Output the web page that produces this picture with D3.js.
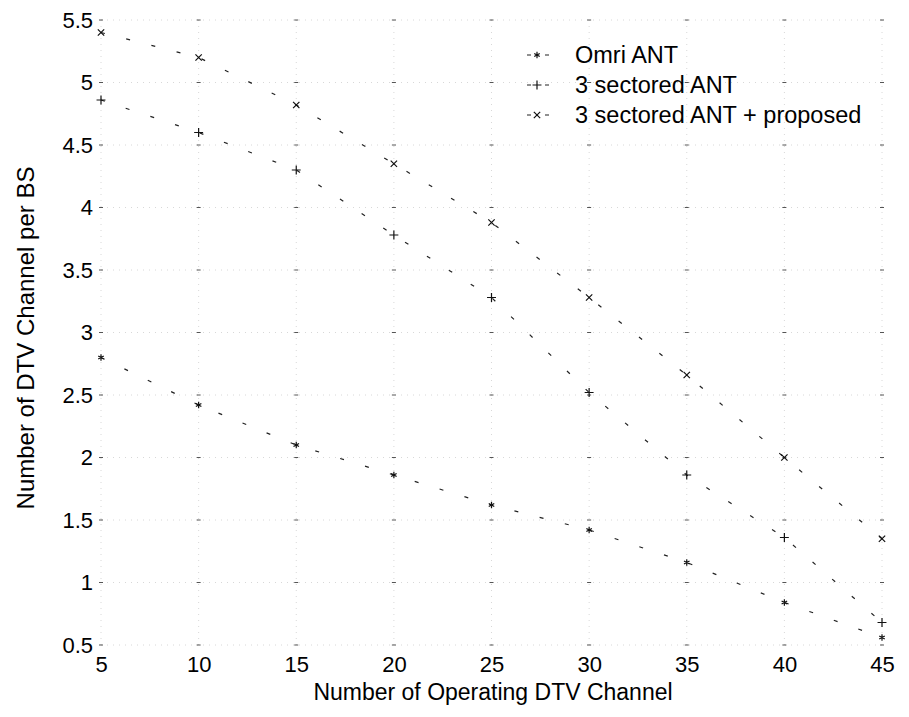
<!DOCTYPE html>
<html>
<head>
<meta charset="utf-8">
<script src="https://cdn.jsdelivr.net/npm/d3@7"></script>
<style>
  body { margin: 0; background: #fff; }
  text { font-family: "Liberation Sans", Arial, Helvetica, sans-serif; fill: #000; }
</style>
</head>
<body>
<div id="chart"></div>
<script>
// valeurs
const channels = [5, 10, 15, 20, 25, 30, 35, 40, 45];
const omniAnt = [2.80, 2.42, 2.10, 1.86, 1.62, 1.42, 1.16, 0.84, 0.56];
const sectoredAnt = [4.86, 4.60, 4.30, 3.78, 3.28, 2.52, 1.86, 1.36, 0.68];
const sectoredProposed = [5.40, 5.20, 4.82, 4.35, 3.88, 3.28, 2.66, 2.00, 1.35];

const seriesNames = ["Omri ANT", "3 sectored ANT", "3 sectored ANT + proposed"];
const xTicks = [5, 10, 15, 20, 25, 30, 35, 40, 45];
const yTicks = [0.5, 1, 1.5, 2, 2.5, 3, 3.5, 4, 4.5, 5, 5.5];

const width = 909;
const height = 717;
const margin = {top: 20, right: 27, bottom: 72, left: 101};

const svg = d3.select("#chart")
  .append("svg")
  .attr("width", width)
  .attr("height", height);

const xScale = d3.scaleLinear()
  .domain([5, 45])
  .range([margin.left, width - margin.right]);

const yScale = d3.scaleLinear()
  .domain([0.5, 5.5])
  .range([height - margin.bottom, margin.top]);

// grille pointillée (très effacée sur le scan)
const grid = svg.append("g");
grid.selectAll(".vgrid")
  .data(xTicks)
  .enter()
  .append("line")
  .attr("x1", d => xScale(d))
  .attr("x2", d => xScale(d))
  .attr("y1", yScale(0.5))
  .attr("y2", yScale(5.5))
  .attr("stroke", "#d8d8d8")
  .attr("stroke-dasharray", "1,5");
grid.selectAll(".hgrid")
  .data(yTicks)
  .enter()
  .append("line")
  .attr("x1", xScale(5))
  .attr("x2", xScale(45))
  .attr("y1", d => yScale(d))
  .attr("y2", d => yScale(d))
  .attr("stroke", "#d8d8d8")
  .attr("stroke-dasharray", "1,5");

// croisements de la grille, seuls restes visibles sur le scan
xTicks.forEach(xv => {
  grid.selectAll(null)
    .data(yTicks)
    .enter()
    .append("line")
    .attr("x1", xScale(xv) - 2)
    .attr("x2", xScale(xv) + 2)
    .attr("y1", d => yScale(d))
    .attr("y2", d => yScale(d))
    .attr("stroke", "#555");
});

// axes
const xAxis = svg.append("g")
  .attr("transform", `translate(0, ${yScale(0.5)})`)
  .call(d3.axisBottom(xScale).tickValues(xTicks).tickSize(0).tickPadding(11));
xAxis.select(".domain").remove();
xAxis.selectAll("text").style("font-size", "22px");

const yAxis = svg.append("g")
  .attr("transform", `translate(${xScale(5)}, 0)`)
  .call(d3.axisLeft(yScale).tickValues(yTicks).tickSize(0).tickPadding(8)
    .tickFormat(d3.format("~g")));
yAxis.select(".domain").remove();
yAxis.selectAll("text").style("font-size", "22px");

// titres
svg.append("text")
  .attr("x", 493)
  .attr("y", 700)
  .attr("text-anchor", "middle")
  .style("font-size", "23px")
  .text("Number of Operating DTV Channel");

svg.append("text")
  .attr("transform", "translate(34, 338) rotate(-90)")
  .attr("text-anchor", "middle")
  .style("font-size", "24px")
  .text("Number of DTV Channel per BS");

// courbes
const series = [
  {name: seriesNames[0], values: omniAnt, symbol: d3.symbolAsterisk},
  {name: seriesNames[1], values: sectoredAnt, symbol: d3.symbolPlus},
  {name: seriesNames[2], values: sectoredProposed, symbol: d3.symbolX}
];

const line = d3.line()
  .x((d, i) => xScale(channels[i]))
  .y(d => yScale(d));

series.forEach(s => {
  svg.append("path")
    .datum(s.values)
    .attr("d", line)
    .attr("fill", "none")
    .attr("stroke", "#222")
    .attr("stroke-width", 1.2)
    .attr("stroke-dasharray", "4,22");

  svg.selectAll(null)
    .data(s.values)
    .enter()
    .append("path")
    .attr("transform", (d, i) => `translate(${xScale(channels[i])}, ${yScale(d)})`)
    .attr("d", d3.symbol().type(s.symbol).size(28))
    .attr("fill", "none")
    .attr("stroke", "#111")
    .attr("stroke-width", 1.2);
});

// légende
const legend = svg.append("g");
series.forEach((s, i) => {
  const y = 55 + i * 30;
  legend.append("line")
    .attr("x1", 515)
    .attr("x2", 560)
    .attr("y1", y)
    .attr("y2", y)
    .attr("stroke", "#222")
    .attr("stroke-width", 1.2)
    .attr("stroke-dasharray", "4,14")
    .attr("stroke-dashoffset", -12);
  legend.append("path")
    .attr("transform", `translate(537, ${y})`)
    .attr("d", d3.symbol().type(s.symbol).size(28))
    .attr("fill", "none")
    .attr("stroke", "#111")
    .attr("stroke-width", 1.2);
  legend.append("text")
    .attr("x", 575)
    .attr("y", y)
    .attr("dy", "0.36em")
    .style("font-size", "23.5px")
    .text(s.name);
});
</script>
</body>
</html>
